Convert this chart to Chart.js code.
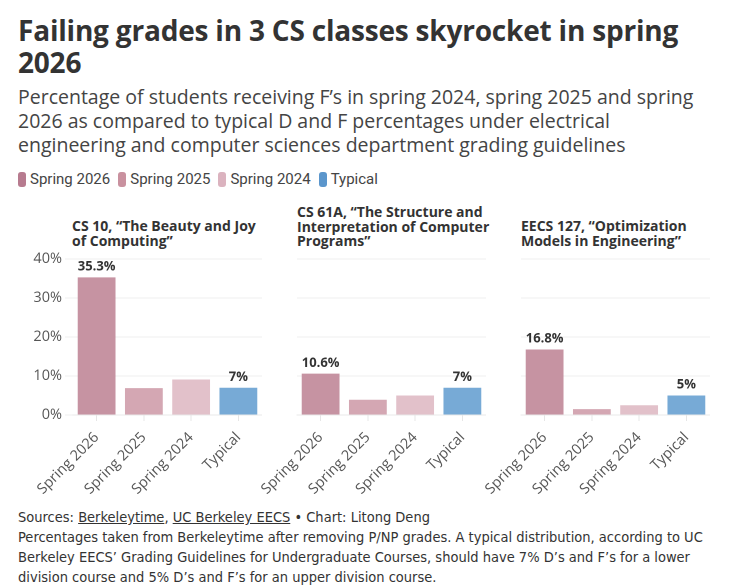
<!DOCTYPE html>
<html>
<head>
<meta charset="utf-8">
<script src="https://cdn.jsdelivr.net/npm/chart.js@4.4.1/dist/chart.umd.min.js"></script>
<style>
  body { margin: 0; background: #fff; font-family: "Open Sans", Roboto, sans-serif; color: #333; }
  #page { position: relative; width: 733px; height: 586px; overflow: hidden; }
  .abs { position: absolute; }
  #title { left: 18px; top: 14px; width: 715px; font-size: 28px; line-height: 32px; font-weight: 700; color: #333; white-space: nowrap; letter-spacing: -0.2px; }
  #subtitle { left: 18px; top: 85px; width: 715px; font-size: 19.5px; line-height: 24px; color: #444; white-space: nowrap; }
  #legend { left: 18px; top: 170px; font-family: Roboto, sans-serif; font-size: 15px; line-height: 18px; color: #444; display: flex; }
  #legend span.item { display: flex; align-items: center; margin-right: 8px; }
  #legend i { display: inline-block; width: 8px; height: 15px; border-radius: 3px; margin-right: 4px; }
  .ptitle { font-size: 14px; line-height: 14.5px; font-weight: 700; color: #333; white-space: nowrap; }
  #footer { left: 18px; top: 507px; width: 715px; font-family: "Liberation Sans Narrow", "DejaVu Sans Condensed", sans-serif; font-size: 14.5px; line-height: 20px; color: #333; white-space: nowrap; }
  #footer u { text-decoration: underline; }
  canvas { position: absolute; }
</style>
</head>
<body>
<div id="page">
  <div id="title" class="abs">Failing grades in 3 CS classes skyrocket in spring<br>2026</div>
  <div id="subtitle" class="abs">Percentage of students receiving F’s in spring 2024, spring 2025 and spring<br>2026 as compared to typical D and F percentages under electrical<br>engineering and computer sciences department grading guidelines</div>
  <div id="legend" class="abs"></div>

  <div class="abs ptitle" style="left:72px; top:219px;">CS 10, “The Beauty and Joy<br>of Computing”</div>
  <div class="abs ptitle" style="left:297px; top:205px;">CS 61A, “The Structure and<br>Interpretation of Computer<br>Programs”</div>
  <div class="abs ptitle" style="left:521px; top:219px;">EECS 127, “Optimization<br>Models in Engineering”</div>

  <canvas id="c1" style="left:14px; top:247px; width:248px; height:253px;"></canvas>
  <canvas id="c2" style="left:238px; top:247px; width:248px; height:253px;"></canvas>
  <canvas id="c3" style="left:462px; top:247px; width:248px; height:253px;"></canvas>

  <div id="footer" class="abs">Sources: <u>Berkeleytime</u>, <u>UC Berkeley EECS</u> • Chart: Litong Deng<br>Percentages taken from Berkeleytime after removing P/NP grades. A typical distribution, according to UC<br>Berkeley EECS’ Grading Guidelines for Undergraduate Courses, should have 7% D’s and F’s for a lower<br>division course and 5% D’s and F’s for an upper division course.</div>
</div>

<script>
// DATA
var categories = ["Spring 2026", "Spring 2025", "Spring 2024", "Typical"];
var cs10 = [35.3, 6.9, 9.1, 7];
var cs61a = [10.6, 3.9, 5.0, 7];
var eecs127 = [16.8, 1.5, 2.5, 5];
var yTicks = [0, 10, 20, 30, 40];
var labelledBars = [0, 3];   // only these bars get a value label

var barColors = ["#c693a2", "#d4a7b3", "#e2c1ca", "#77aad6"];
var legendColors = ["#b77b8f", "#c9919f", "#dbb3bf", "#5b96cc"];
var chartFont = '"Open Sans", Roboto, sans-serif';

// LEGEND
var legend = document.getElementById('legend');
categories.forEach(function(c, i) {
  var s = document.createElement('span');
  s.className = 'item';
  s.innerHTML = '<i style="background:' + legendColors[i] + '"></i>' + c;
  legend.appendChild(s);
});

// VALUE LABELS ABOVE BARS
var valueLabels = {
  id: 'valueLabels',
  afterDatasetsDraw: function(chart) {
    var ctx = chart.ctx;
    var meta = chart.getDatasetMeta(0);
    var data = chart.data.datasets[0].data;
    ctx.save();
    ctx.font = '700 13px ' + chartFont;
    ctx.fillStyle = '#333';
    ctx.textAlign = 'center';
    ctx.textBaseline = 'bottom';
    labelledBars.forEach(function(i) {
      var bar = meta.data[i];
      ctx.fillText(data[i] + '%', bar.x, bar.y - 4);
    });
    ctx.restore();
  }
};

function makeChart(id, values, showY) {
  return new Chart(document.getElementById(id), {
    type: 'bar',
    data: {
      labels: categories,
      datasets: [{
        data: values,
        backgroundColor: barColors,
        barPercentage: 0.8,
        categoryPercentage: 1.0
      }]
    },
    options: {
      responsive: false,
      animation: false,
      devicePixelRatio: 2,
      layout: { padding: { top: 12, right: 0, left: 0, bottom: 0 } },
      plugins: { legend: { display: false }, tooltip: { enabled: false } },
      scales: {
        x: {
          grid: { drawOnChartArea: false, offset: false, tickLength: 6, color: '#e6e6e6' },
          border: { color: '#e8e8e8' },
          ticks: {
            minRotation: 45, maxRotation: 45, padding: 8,
            color: '#555', font: { family: chartFont, size: 14.5 }
          },
          afterFit: function(scale) { scale.height = 85; }
        },
        y: {
          min: 0, max: 40,
          afterBuildTicks: function(scale) {
            scale.ticks = yTicks.map(function(v) { return { value: v }; });
          },
          grid: { color: '#eeeeee', drawTicks: showY, tickLength: 8 },
          border: { display: false },
          ticks: {
            display: showY, padding: 3,
            color: '#555', font: { family: chartFont, size: 14.5 },
            callback: function(v) { return v + '%'; }
          },
          afterFit: function(scale) { scale.width = 59; }
        }
      }
    },
    plugins: [valueLabels]
  });
}

makeChart('c1', cs10, true);
makeChart('c2', cs61a, false);
makeChart('c3', eecs127, false);
</script>
</body>
</html>
